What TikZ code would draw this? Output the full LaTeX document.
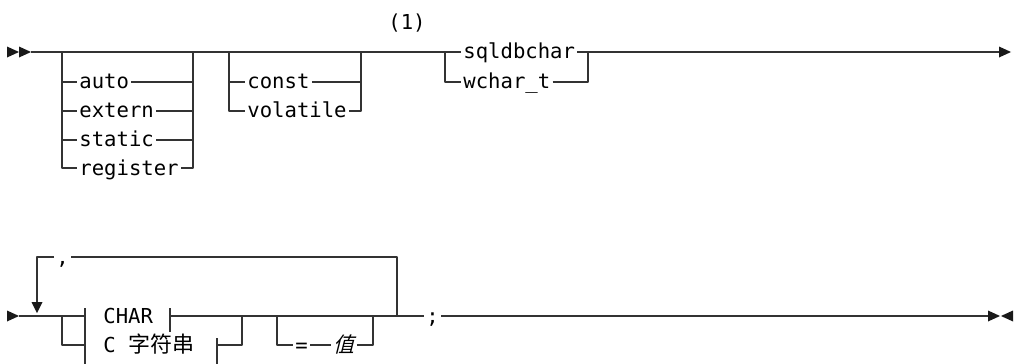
\documentclass[tikz,border=0pt]{standalone}
\usepackage{fontspec}
\setmonofont{DejaVu Sans Mono}
\newfontfamily\cjk{Noto Sans CJK SC}
\newfontfamily\cjkit[FakeSlant=0.25]{Noto Sans CJK SC}
\tikzset{
  rail/.style={draw=black!80,line width=0.6pt},
  tipfill/.style={fill=black!90},
  kw/.style={font=\ttfamily\fontsize{10.3}{12}\selectfont,text=black,
    inner xsep=1pt,inner ysep=0pt,text height=9pt,text depth=2pt,anchor=west},
}
\begin{document}
\begin{tikzpicture}[x=0.5pt,y=-0.5pt,line join=round]
\useasboundingbox (0,0) rectangle (1014,364);
% ---- first line ----
\node[kw] (auto) at (77,82) {auto};
\node[kw] (extern) at (77,111) {extern};
\node[kw] (static) at (77,140) {static};
\node[kw] (register) at (77,168) {register};
\node[kw] (const) at (245,82) {const};
\node[kw] (volatile) at (245,111) {volatile};
\node[kw] (sqldbchar) at (461,52) {sqldbchar};
\node[kw] (wchart) at (461,82) {wchar\_t};
\node[kw,anchor=center] (note) at (407,23) {(1)};
\coordinate (t0) at (31,52);
\coordinate (s1l) at (62,52);
\coordinate (s1r) at (193,52);
\coordinate (s2l) at (229,52);
\coordinate (s2r) at (361,52);
\coordinate (s3l) at (445,52);
\coordinate (s3r) at (588,52);
\coordinate (t1) at (1000,52);
\draw[rail] (t0) -- (sqldbchar.west) (sqldbchar.east) -- (t1);
\foreach \n in {auto,extern,static}
  \draw[rail] (s1l |- \n) -- (\n.west) (\n.east) -- (s1r |- \n);
\draw[rail] (s1l) |- (register.west) (register.east) -| (s1r);
\draw[rail] (s2l |- const) -- (const.west) (const.east) -- (s2r |- const);
\draw[rail] (s2l) |- (volatile.west) (volatile.east) -| (s2r);
\draw[rail] (s3l) |- (wchart.west) (wchart.east) -| (s3r);
\fill[tipfill] (7,46.5) -- (19,52) -- (7,57.5) -- cycle (19,46.5) -- (31,52) -- (19,57.5) -- cycle;
\fill[tipfill] (999,46.5) -- (1011,52) -- (999,57.5) -- cycle;
% ---- second line ----
\node[kw] (chr) at (101,316) {CHAR};
\node[kw] (cstr) at (101,345) {C {\cjk\fontsize{11}{13}\selectfont 字符串}};
\node[kw] (eq) at (293,345) {=};
\node[kw] (val) at (331,345) {\cjkit\fontsize{10.5}{12}\selectfont 值};
\node[kw] (semi) at (424,316) {;};
\node[kw] (comma) at (54,257) {,};
\coordinate (b0) at (19,316);
\coordinate (lpt) at (37,257);
\coordinate (lpd) at (37,303);
\coordinate (lprt) at (397,257);
\coordinate (lpr) at (397,316);
\coordinate (f1l) at (62,316);
\coordinate (f1r) at (242,316);
\coordinate (fbl) at (85,316);
\coordinate (fbr) at (170,316);
\coordinate (fbc) at (217,345);
\coordinate (o1l) at (277,316);
\coordinate (o1r) at (373,316);
\coordinate (b1) at (988,316);
\draw[rail] (b0) -- (fbl) (fbr) -- (semi.west) (semi.east) -- (b1);
\draw[rail] (85,308) -- (85,366) (170,308) -- (170,332) (217,338) -- (217,366);
\draw[rail] (f1l) |- (fbl |- fbc) (fbc) -| (f1r);
\draw[rail] (o1l) |- (eq.west) (eq.east) -- (val.west) (val.east) -| (o1r);
\draw[rail] (lpr) -- (lprt) -- (comma.east) (comma.west) -- (lpt) -- (lpd);
\fill[tipfill] (31.5,302) -- (42.5,302) -- (37,313) -- cycle;
\fill[tipfill] (7,310.5) -- (19,316) -- (7,321.5) -- cycle;
\fill[tipfill] (988,310.5) -- (1000,316) -- (988,321.5) -- cycle (1013,310.5) -- (1001,316) -- (1013,321.5) -- cycle;
\end{tikzpicture}
\end{document}
